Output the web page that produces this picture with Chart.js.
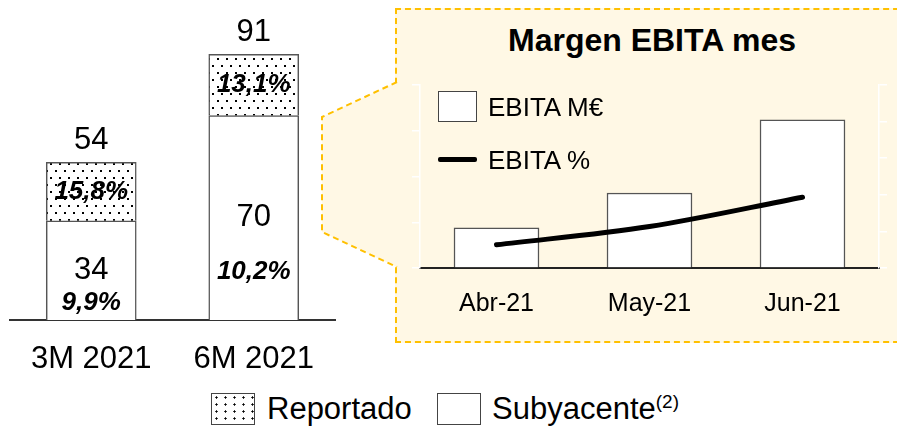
<!DOCTYPE html>
<html>
<head>
<meta charset="utf-8">
<script src="https://cdn.jsdelivr.net/npm/chart.js@4.4.0/dist/chart.umd.min.js"></script>
<style>
  body{margin:0;background:#fff;width:897px;height:428px;overflow:hidden;position:relative;
       font-family:"Liberation Sans",Arial,sans-serif;color:#000}
  .abs{position:absolute}
  #panel{left:395px;top:8px;width:520px;height:331px;background:#fff8e5;border:2px dashed #ffc000}
  .box{box-sizing:border-box;border:1px solid #444;background:#fff}
  .dots{background-color:#fff;background-image:radial-gradient(circle,#000 0.9px,transparent 1.3px);
        background-size:9px 7px}
  .txt{white-space:nowrap}
</style>
</head>
<body>
<div id="panel" class="abs"></div>
<svg class="abs" style="left:0;top:0" width="897" height="428">
  <polygon points="322,117 397,82 397,267 322,232" fill="#fff8e5"/>
  <polyline points="397,82 322,117 322,232 397,267" fill="none" stroke="#ffc000" stroke-width="2" stroke-dasharray="6,4"/>
</svg>
<canvas id="left" class="abs" style="left:0;top:0" width="340" height="372"></canvas>
<canvas id="right" class="abs" style="left:400px;top:60px" width="497" height="270"></canvas>

<div class="abs txt" style="left:452px;top:24px;width:400px;text-align:center;font-size:32px;font-weight:bold;line-height:32px">Margen EBITA mes</div>
<div class="abs box" style="left:438px;top:91px;width:39px;height:31px"></div>
<div class="abs txt" style="left:488px;top:92px;font-size:26px;line-height:30px">EBITA M€</div>
<div class="abs" style="left:438px;top:157px;width:39px;height:5px;background:#000;border-radius:2px"></div>
<div class="abs txt" style="left:488px;top:145px;font-size:26px;line-height:30px">EBITA %</div>

<div class="abs box dots" style="left:211px;top:393px;width:44px;height:32px"></div>
<div class="abs txt" style="left:267px;top:392px;font-size:31px;line-height:34px">Reportado</div>
<div class="abs box" style="left:437px;top:393px;width:44px;height:32px"></div>
<div class="abs txt" style="left:492px;top:392px;font-size:31px;line-height:34px">Subyacente<span style="font-size:19px;position:relative;top:-11px">(2)</span></div>

<script>
// datos acumulados
var periodos = ["3M 2021", "6M 2021"];
var subyacente = [34, 70];
var reportado = [54, 91];
var margenSub = [9.9, 10.2];
var margenRep = [15.8, 13.1];

// datos mensuales
var meses = ["Abr-21", "May-21", "Jun-21"];
var ebitaMes = [4.4, 8.2, 16.2];
var margenMes = [6.9, 8.4, 10.8];

var FONT = "'Liberation Sans', Arial, sans-serif";

function pct(v){
	return v.toFixed(1).replace(".", ",") + "%";
}

// trama de puntos
function dotPattern(){
	var c = document.createElement("canvas");
	c.width = 9; c.height = 14;
	var g = c.getContext("2d");
	g.fillStyle = "#fff";
	g.fillRect(0, 0, 9, 14);
	g.fillStyle = "#000";
	g.fillRect(1, 2, 2, 2);
	g.fillRect(5, 9, 2, 2);
	return g.createPattern(c, "repeat");
}

var labelsPlugin = {
	id: "etiquetas",
	afterDatasetsDraw: function(chart){
		var ctx = chart.ctx;
		var sub = chart.getDatasetMeta(0).data;
		var rep = chart.getDatasetMeta(1).data;
		ctx.save();
		ctx.fillStyle = "#000";
		ctx.textAlign = "center";
		ctx.textBaseline = "middle";
		for(var i = 0; i < sub.length; i++){
			var s = sub[i], r = rep[i];
			ctx.font = "31px " + FONT;
			ctx.fillText(String(reportado[i]), r.x, r.y - 22);
			var midS = (s.y + s.base) / 2;
			var half = (s.base - s.y) / 2;
			ctx.fillText(String(subyacente[i]), s.x, midS);
			ctx.font = "italic bold 26px " + FONT;
			ctx.fillText(pct(margenRep[i]), r.x, (r.y + r.base) / 2);
			ctx.fillText(pct(margenSub[i]), s.x, midS + 12 + 0.41 * half);
		}
		ctx.restore();
	}
};

new Chart(document.getElementById("left").getContext("2d"), {
	type: "bar",
	data: {
		labels: periodos,
		datasets: [
			{
				label: "Subyacente",
				data: subyacente,
				backgroundColor: "#fff",
				borderColor: "#555",
				borderWidth: 1.5,
				barThickness: 90,
				grouped: false
			},
			{
				label: "Reportado",
				data: periodos.map(function(p, i){ return [subyacente[i], reportado[i]]; }),
				backgroundColor: dotPattern(),
				borderColor: "#555",
				borderWidth: 1.5,
				barThickness: 90,
				grouped: false
			}
		]
	},
	options: {
		responsive: false,
		animation: false,
		devicePixelRatio: 1,
		layout: { padding: { left: 10, right: 5, top: 28, bottom: 0 } },
		plugins: { legend: { display: false }, tooltip: { enabled: false } },
		scales: {
			x: {
				grid: { display: false },
				border: { display: true, color: "#333", width: 2 },
				ticks: { color: "#000", font: { family: FONT, size: 31 }, padding: 13 },
				afterFit: function(s){ s.height = 52; }
			},
			y: { display: false, min: 0, max: 100 }
		}
	},
	plugins: [labelsPlugin]
});

new Chart(document.getElementById("right").getContext("2d"), {
	type: "bar",
	data: {
		labels: meses,
		datasets: [
			{
				type: "line",
				label: "EBITA %",
				data: margenMes,
				yAxisID: "y2",
				borderColor: "#000",
				borderWidth: 5,
				borderCapStyle: "round",
				pointRadius: 0,
				cubicInterpolationMode: "monotone",
				order: 1
			},
			{
				label: "EBITA M€",
				data: ebitaMes,
				yAxisID: "y",
				backgroundColor: "#fff",
				borderColor: "#555",
				borderWidth: 1.5,
				barThickness: 85,
				order: 2
			}
		]
	},
	options: {
		responsive: false,
		animation: false,
		devicePixelRatio: 1,
		layout: { padding: { left: 0, right: 0, top: 25, bottom: 0 } },
		plugins: { legend: { display: false }, tooltip: { enabled: false } },
		scales: {
			x: {
				grid: { display: false },
				border: { display: true, color: "#222", width: 2 },
				ticks: { color: "#000", font: { family: FONT, size: 25 }, padding: 13 },
				afterFit: function(s){ s.height = 62; }
			},
			y: {
				position: "left",
				min: 0, max: 20,
				ticks: { display: false, stepSize: 5 },
				grid: { drawOnChartArea: false, color: "#fff", tickLength: 8, lineWidth: 1.5 },
				border: { color: "#fff", width: 1.5 },
				afterFit: function(s){ s.width = 20; }
			},
			y2: {
				position: "right",
				min: 5, max: 20,
				ticks: { display: false, stepSize: 3 },
				grid: { drawOnChartArea: false, color: "#fff", tickLength: 8, lineWidth: 1.5 },
				border: { color: "#fff", width: 1.5 },
				afterFit: function(s){ s.width = 18; }
			}
		}
	}
});
</script>
</body>
</html>
